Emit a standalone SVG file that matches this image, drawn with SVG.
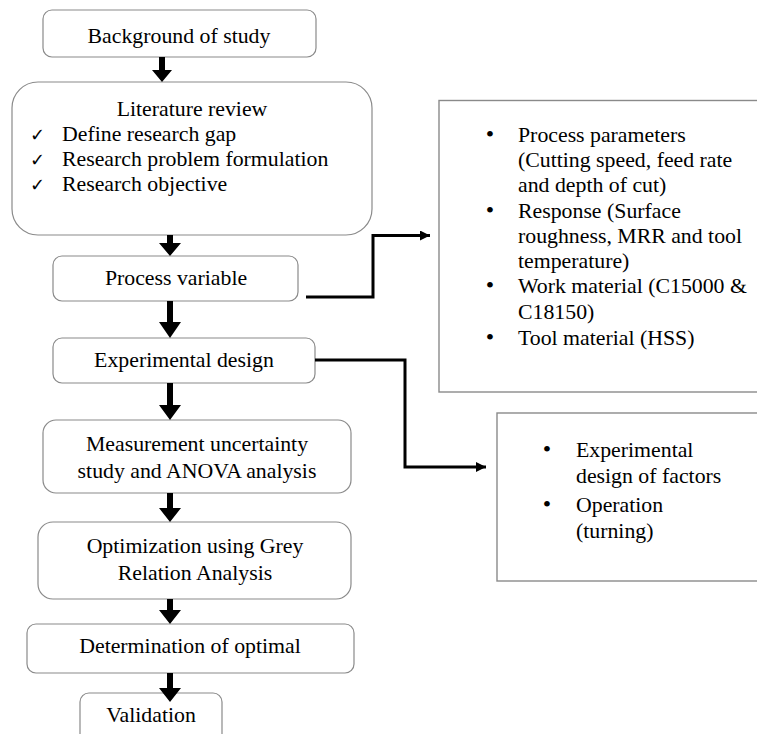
<svg xmlns="http://www.w3.org/2000/svg" width="757" height="734" viewBox="0 0 757 734">
<style>
.box{fill:#fff;stroke:#8a8a8a;stroke-width:1.2}
.sq{fill:#fff;stroke:#8a8a8a;stroke-width:1.4}
text{font-family:"Liberation Serif","Times New Roman",serif;font-size:21.8px;fill:#000}
.c{text-anchor:middle}
.chk{font-family:"DejaVu Sans",sans-serif;font-size:18px}
.bul{text-anchor:middle;font-size:24px}
.conn{fill:none;stroke:#000;stroke-width:3}
</style>
<defs>
<marker id="ah" markerWidth="10" markerHeight="10" refX="10" refY="5" orient="auto" markerUnits="userSpaceOnUse">
<path d="M0,0 L10,5 L0,10 Z" fill="#000"/>
</marker>
</defs>
<rect width="757" height="734" fill="#fff"/>

<g id="n1"><rect class="box" x="43" y="10" width="273" height="47" rx="9"/><text class="c" x="179" y="43">Background of study</text></g>
<g id="n2"><rect class="box" x="12" y="82" width="360" height="153" rx="26"/>
<text class="c" x="192" y="116">Literature review</text>
<text class="chk" x="30" y="141">✓</text><text x="62" y="141">Define research gap</text>
<text class="chk" x="30" y="166">✓</text><text x="62" y="166">Research problem formulation</text>
<text class="chk" x="30" y="191">✓</text><text x="62" y="191">Research objective</text></g>
<g id="n3"><rect class="box" x="53" y="256" width="245" height="45" rx="9"/><text class="c" x="176" y="285">Process variable</text></g>
<g id="n4"><rect class="box" x="53" y="338" width="262" height="45" rx="9"/><text class="c" x="184" y="367">Experimental design</text></g>
<g id="n5"><rect class="box" x="43" y="420" width="308" height="73" rx="13"/><text class="c" x="197" y="451">Measurement uncertainty</text><text class="c" x="197" y="478">study and ANOVA analysis</text></g>
<g id="n6"><rect class="box" x="38" y="522" width="313" height="77" rx="15"/><text class="c" x="195" y="553">Optimization using Grey</text><text class="c" x="195" y="580">Relation Analysis</text></g>
<g id="n7"><rect class="box" x="27" y="624" width="327" height="49" rx="9"/><text class="c" x="190" y="653">Determination of optimal</text></g>
<g id="n8"><rect class="box" x="80" y="693" width="142" height="50" rx="9"/><text class="c" x="151" y="722">Validation</text></g>

<g id="n9"><rect class="sq" x="439" y="100.5" width="330" height="291.5"/>
<text x="490" y="142" class="bul">•</text><text x="518" y="142">Process parameters</text>
<text x="518" y="167">(Cutting speed, feed rate</text>
<text x="518" y="192">and depth of cut)</text>
<text x="490" y="218" class="bul">•</text><text x="518" y="218">Response (Surface</text>
<text x="518" y="243">roughness, MRR and tool</text>
<text x="518" y="268">temperature)</text>
<text x="490" y="293" class="bul">•</text><text x="518" y="293">Work material (C15000 &amp;</text>
<text x="518" y="319">C18150)</text>
<text x="490" y="345" class="bul">•</text><text x="518" y="345">Tool material (HSS)</text></g>

<g id="n10"><rect class="sq" x="497" y="413" width="270" height="168"/>
<text x="547" y="457" class="bul">•</text><text x="576" y="457">Experimental</text>
<text x="576" y="483">design of factors</text>
<text x="547" y="512" class="bul">•</text><text x="576" y="512">Operation</text>
<text x="576" y="538">(turning)</text></g>

<g id="connectors">
<g fill="#000">
<path d="M159,57 h6 v13 h7 l-10,12 l-10,-12 h7 z"/>
<path d="M167,235 h6 v8 h8 l-11,13 l-11,-13 h8 z"/>
<path d="M167,301 h6 v21 h8 l-11,16 l-11,-16 h8 z"/>
<path d="M167,383 h6 v22 h8 l-11,15 l-11,-15 h8 z"/>
<path d="M167,493 h6 v15 h8 l-11,14 l-11,-14 h8 z"/>
<path d="M167,599 h6 v11 h8 l-11,14 l-11,-14 h8 z"/>
<path d="M167,673 h6 v15 h8 l-11,14 l-11,-14 h8 z"/>
</g>
<polyline class="conn" points="306,297 373,297 373,235.5 430,235.5" marker-end="url(#ah)"/>
<polyline class="conn" points="315,360 405,360 405,467 486,467" marker-end="url(#ah)"/>
</g>
</svg>
